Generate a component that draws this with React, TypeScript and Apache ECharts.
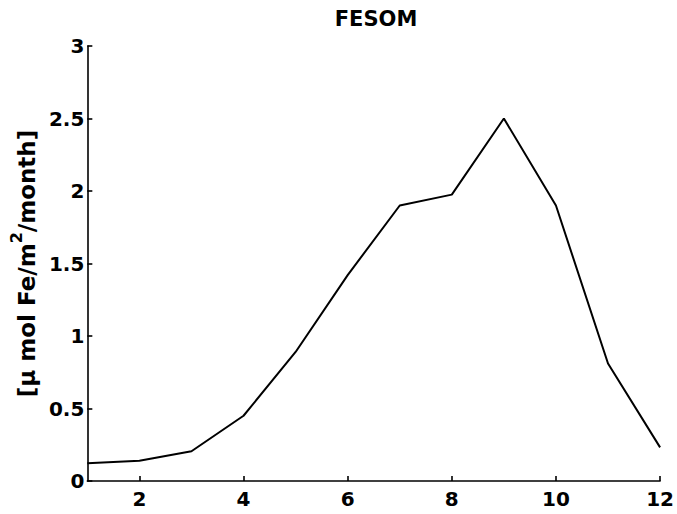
import React, { useEffect, useRef } from "react";
import * as echarts from "echarts";

// Monthly iron deposition flux (months 1–12)
const months = [1, 2, 3, 4, 5, 6, 7, 8, 9, 10, 11, 12];
const flux = [0.123, 0.14, 0.205, 0.45, 0.89, 1.42, 1.9, 1.975, 2.5, 1.9, 0.81, 0.232];
const xTicks = [2, 4, 6, 8, 10, 12];
const yTicks = [0, 0.5, 1, 1.5, 2, 2.5, 3];

const FONT = "'DejaVu Sans', Verdana, sans-serif";

export default function App() {
  const ref = useRef<HTMLDivElement>(null);

  useEffect(() => {
    if (!ref.current) return;
    const chart = echarts.init(ref.current, undefined, { renderer: "svg" });
    chart.setOption({
      animation: false,
      backgroundColor: "#ffffff",
      title: {
        text: "FESOM",
        left: 371,
        top: 3,
        textAlign: "center",
        textStyle: { fontFamily: FONT, fontWeight: "bold", fontSize: 21, color: "#000" },
      },
      grid: { left: 84, right: 16, top: 46, bottom: 33 },
      xAxis: {
        type: "value",
        min: 1,
        max: 12,
        axisLine: { show: true, onZero: false, lineStyle: { color: "#000", width: 1.6 } },
        axisTick: {
          show: true,
          inside: true,
          length: 5,
          customValues: xTicks,
          lineStyle: { color: "#000", width: 1.6 },
        },
        axisLabel: {
          customValues: xTicks,
          fontFamily: FONT,
          fontWeight: "bold",
          fontSize: 20,
          color: "#000",
          margin: 8,
        },
        splitLine: { show: false },
      },
      yAxis: {
        type: "value",
        min: 0,
        max: 3,
        name: "{n|[\u03bc mol Fe/m}{s|2}{n|/month]}",
        nameLocation: "middle",
        nameGap: 46,
        nameTextStyle: {
          fontFamily: FONT,
          fontWeight: "bold",
          fontSize: 23,
          color: "#000",
          rich: {
            n: { fontFamily: FONT, fontWeight: "bold", fontSize: 23, color: "#000", lineHeight: 30, verticalAlign: "bottom" },
            s: { fontFamily: FONT, fontWeight: "bold", fontSize: 16, color: "#000", lineHeight: 30, verticalAlign: "top" },
          },
        },
        axisLine: { show: true, lineStyle: { color: "#000", width: 1.6 } },
        axisTick: {
          show: true,
          inside: true,
          length: 5,
          customValues: yTicks,
          lineStyle: { color: "#000", width: 1.6 },
        },
        axisLabel: {
          customValues: yTicks,
          fontFamily: FONT,
          fontWeight: "bold",
          fontSize: 20,
          color: "#000",
          margin: 3,
        },
        splitLine: { show: false },
      },
      series: [
        {
          type: "line",
          data: months.map((m, i) => [m, flux[i]]),
          showSymbol: false,
          lineStyle: { color: "#000", width: 2 },
        },
      ],
    });
    return () => chart.dispose();
  }, []);

  return <div ref={ref} style={{ width: 677, height: 514, position: "absolute", left: 0, top: 0 }} />;
}
